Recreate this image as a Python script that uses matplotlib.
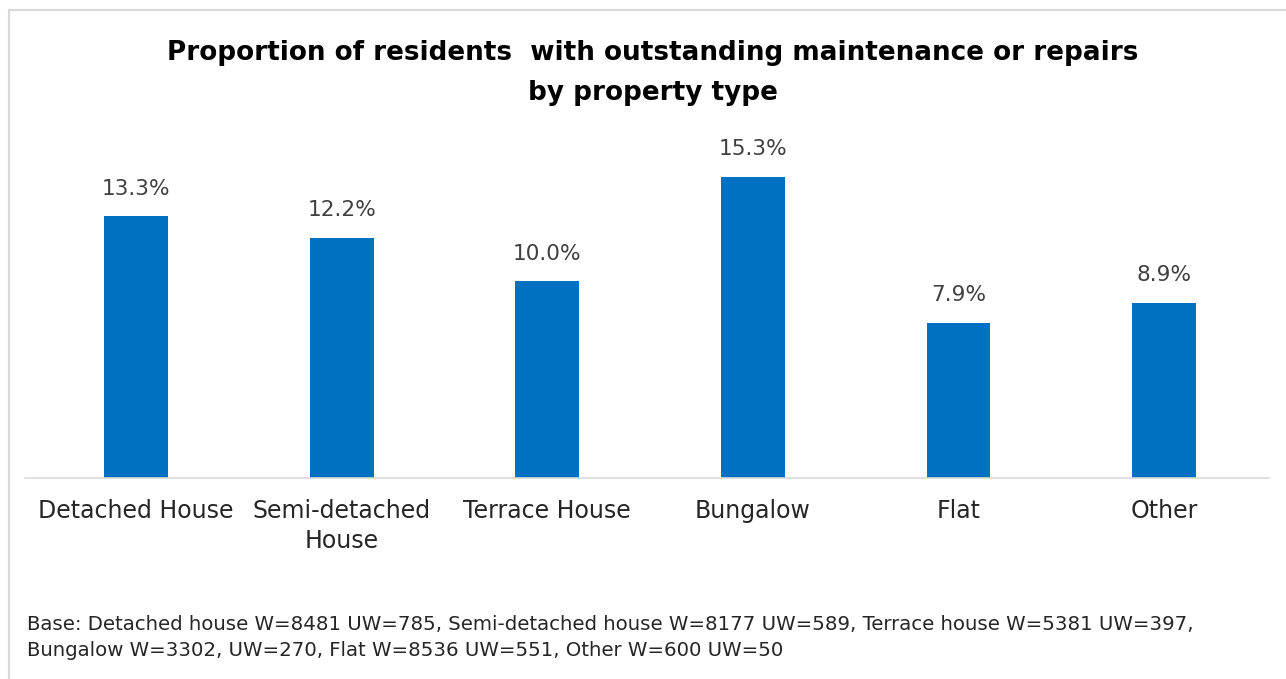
import matplotlib.pyplot as plt
from matplotlib.lines import Line2D

categories = ["Detached House", "Semi-detached\nHouse", "Terrace House", "Bungalow", "Flat", "Other"]
values = [13.3, 12.2, 10.0, 15.3, 7.9, 8.9]
title = "Proportion of residents  with outstanding maintenance or repairs\nby property type"
footnote = ("Base: Detached house W=8481 UW=785, Semi-detached house W=8177 UW=589, Terrace house W=5381 UW=397,\n"
            "Bungalow W=3302, UW=270, Flat W=8536 UW=551, Other W=600 UW=50")

W, H = 1286, 679
plt.rcParams['font.family'] = ['DejaVu Sans']

fig = plt.figure(figsize=(W / 100, H / 100), dpi=100)
fig.patch.set_facecolor("white")

# axes placed in pixel terms: baseline y=478, x from 25 to 1269
ymax = 18
ax = fig.add_axes([25 / W, 1 - 478 / H, (1269 - 25) / W, ymax * 19.67 / H])

x = list(range(len(categories)))
bars = ax.bar(x, values, width=0.31, color="#0070C0", zorder=2)
ax.set_xlim(-0.54, 5.51)
ax.set_ylim(0, ymax)

for b, v in zip(bars, values):
    ax.text(b.get_x() + b.get_width() / 2, v + 0.9, f"{v:.1f}%",
            ha="center", va="bottom", fontsize=15.6, color="#404040")

ax.set_xticks(x)
ax.set_xticklabels(categories, fontsize=17, color="#262626", linespacing=1.3)
ax.tick_params(axis="x", length=0, pad=15)
ax.set_yticks([])
for s in ["top", "right", "left"]:
    ax.spines[s].set_visible(False)
ax.spines["bottom"].set_color("#d9d9d9")
ax.spines["bottom"].set_linewidth(1.2)

fig.text(653 / W, 1 - 73 / H, title, ha="center", va="center",
         fontsize=18.9, fontweight="bold", color="black", linespacing=1.75)

fig.text(27 / W, 1 - 637.5 / H, footnote, ha="left", va="center",
         fontsize=14.2, color="#262626", linespacing=1.42)

# light grey frame (top and left edges visible)
fig.add_artist(Line2D([9 / W, 1], [1 - 10 / H, 1 - 10 / H], transform=fig.transFigure,
                      color="#d9d9d9", lw=1.5))
fig.add_artist(Line2D([9 / W, 9 / W], [0, 1 - 10 / H], transform=fig.transFigure,
                      color="#d9d9d9", lw=1.5))

fig.savefig("out.png", dpi=100)
